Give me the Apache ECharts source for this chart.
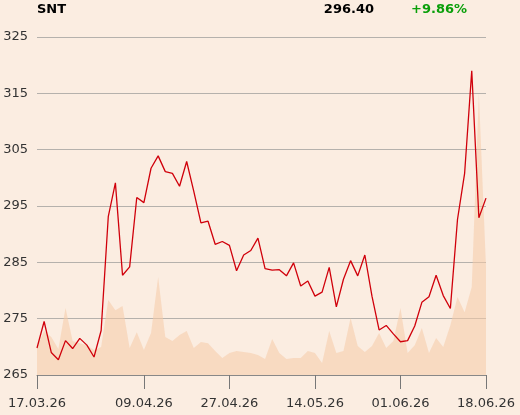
<!DOCTYPE html>
<html>
<head>
<meta charset="utf-8">
<script src="https://cdn.jsdelivr.net/npm/echarts@6/dist/echarts.min.js"></script>
<style>
html,body{margin:0;padding:0;background:#fbede1;}
#chart{width:520px;height:415px;}
</style>
</head>
<body>
<div id="chart"></div>
<script>
const dates = [
 '17.03.26','18.03.26','19.03.26','20.03.26','23.03.26','24.03.26','25.03.26','26.03.26','27.03.26','30.03.26','31.03.26',
 '01.04.26','02.04.26','07.04.26','08.04.26','09.04.26','10.04.26','13.04.26','14.04.26','15.04.26','16.04.26','17.04.26','20.04.26','21.04.26','22.04.26','23.04.26','24.04.26','27.04.26','28.04.26','29.04.26','30.04.26',
 '04.05.26','05.05.26','06.05.26','07.05.26','08.05.26','11.05.26','12.05.26','13.05.26','14.05.26','15.05.26','18.05.26','19.05.26','20.05.26','21.05.26','22.05.26','25.05.26','26.05.26','27.05.26','28.05.26','29.05.26',
 '01.06.26','02.06.26','03.06.26','05.06.26','08.06.26','09.06.26','10.06.26','11.06.26','12.06.26','15.06.26','16.06.26','17.06.26','18.06.26'
];
const prices = [
 269.8,274.5,269.0,267.7,271.1,269.7,271.5,270.3,268.2,272.9,293.1,
 299.1,282.7,284.2,296.5,295.6,301.7,303.9,301.1,300.8,298.5,302.9,297.6,292.0,292.3,288.2,288.7,288.0,283.5,286.3,287.1,
 289.3,283.9,283.6,283.7,282.6,284.9,280.8,281.7,279.0,279.7,284.1,277.1,282.0,285.3,282.6,286.3,279.0,273.0,273.8,272.3,
 270.9,271.1,273.7,277.9,278.9,282.7,279.1,276.8,292.6,300.8,319.0,292.9,296.4
];
const volumes = [
 9.9,15.6,13.5,9.2,23.8,12.1,11.3,10.6,8.9,9.9,26.6,
 23.0,24.5,9.6,15.2,8.9,14.9,34.8,13.5,12.1,14.2,15.6,9.6,11.7,11.3,8.5,6.0,7.8,8.5,8.2,7.8,
 7.1,5.7,12.8,7.8,5.7,6.0,6.0,8.5,7.8,4.3,15.6,7.8,8.5,20.2,10.3,8.2,10.3,14.9,9.6,12.1,
 23.8,7.8,10.6,16.7,7.8,13.1,9.9,17.7,27.7,22.3,31.2,100,38.3
];
const tickLabelDates = ['17.03.26','09.04.26','27.04.26','14.05.26','01.06.26','18.06.26'];
const yTicks = [265,275,285,295,305,315,325];
const ticker = 'SNT';
const lastPrice = '296.40';
const change = '+9.86%';

const showIdx = (i, v) => tickLabelDates.indexOf(dates[i]) >= 0;

const chart = echarts.init(document.getElementById('chart'), null, {renderer:'canvas'});
chart.setOption({
  backgroundColor:'#fbede1',
  animation:false,
  textStyle:{fontFamily:'DejaVu Sans'},
  title:[
    {text:ticker,left:37,top:3,padding:0,textStyle:{fontSize:13,fontWeight:'bold',color:'#000',fontFamily:'DejaVu Sans'}},
    {text:lastPrice,right:146,top:3,padding:0,textStyle:{fontSize:13,fontWeight:'bold',color:'#000',fontFamily:'DejaVu Sans'}},
    {text:change,left:411,top:3,padding:0,textStyle:{fontSize:13,fontWeight:'bold',color:'#0a9f0a',fontFamily:'DejaVu Sans'}}
  ],
  grid:{left:37,right:34,top:37,bottom:40},
  xAxis:{
    type:'category',data:dates,boundaryGap:false,
    axisLine:{show:true,lineStyle:{color:'#888',width:1}},
    axisTick:{show:true,interval:showIdx,length:14,lineStyle:{color:'#777'}},
    axisLabel:{interval:showIdx,fontSize:13,color:'#333',margin:22,fontFamily:'DejaVu Sans'},
    splitLine:{show:false}
  },
  yAxis:[
    {type:'value',min:yTicks[0],max:yTicks[yTicks.length-1],interval:10,
     axisLine:{show:false},axisTick:{show:false},
     axisLabel:{fontSize:13,color:'#333',margin:9,fontFamily:'DejaVu Sans'},
     splitLine:{show:true,lineStyle:{color:'#b5b1ac',width:1}}},
    {type:'value',min:0,max:120,show:false,splitLine:{show:false}}
  ],
  series:[
    {type:'line',data:volumes,yAxisIndex:1,showSymbol:false,symbol:'none',
     lineStyle:{width:0},areaStyle:{color:'#f5cba8',opacity:0.55},z:1},
    {type:'line',data:prices,yAxisIndex:0,showSymbol:false,symbol:'none',
     lineStyle:{color:'#d0000b',width:1.3},z:3}
  ]
});
</script>
</body>
</html>
